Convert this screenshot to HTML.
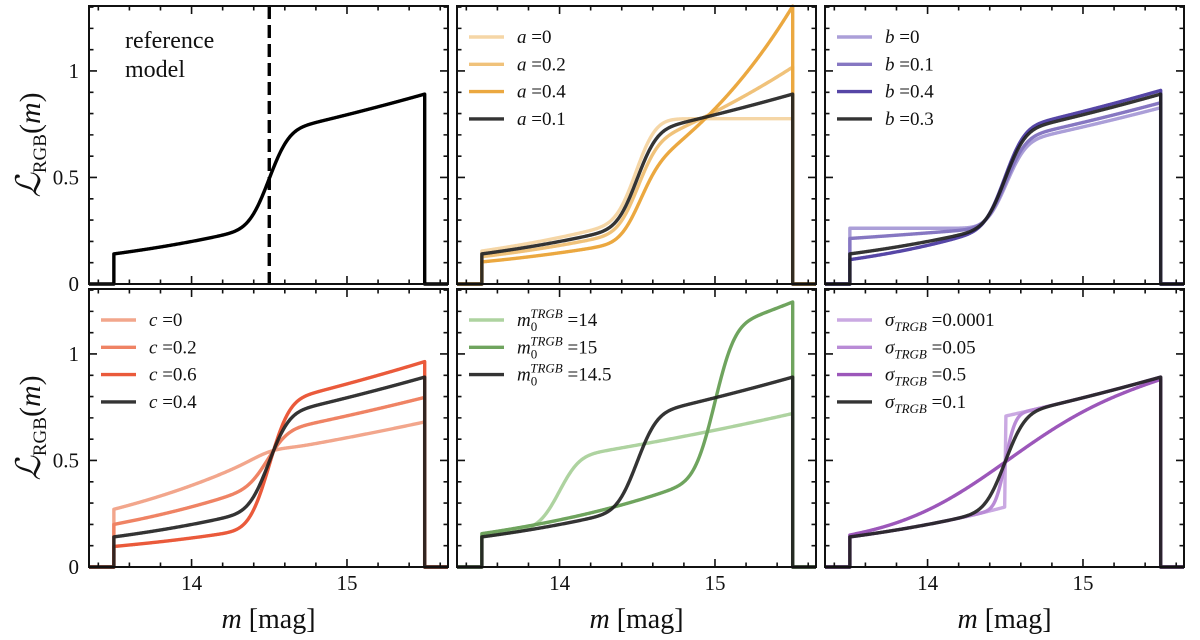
<!DOCTYPE html>
<html><head><meta charset="utf-8">
<style>
body{margin:0;background:#fff;}
svg{display:block;}
svg text{font-family:"Liberation Serif","DejaVu Serif",serif;}
</style></head>
<body>
<svg id="chart" width="1200" height="640" viewBox="0 0 1200 640" font-family="Liberation Serif, DejaVu Serif, serif"></svg>
<script>
// Model parameters per panel (reference model: a=0.1, b=0.3, c=0.4, m0=14.5, sigma=0.1)
const panelVaried = ["ref", "a", "b", "c", "m0", "sigma"];
const aValues = [0, 0.2, 0.4];
const bValues = [0, 0.1, 0.4];
const cValues = [0, 0.2, 0.6];
const m0Values = [14, 15];
const sigmaValues = [0.0001, 0.05, 0.5];
const refParams = {a: 0.1, b: 0.3, c: 0.4, m0: 14.5, sigma: 0.1};
const aColors = ["#f5d6a6", "#f0c27a", "#eba840"];
const bColors = ["#ab9fd8", "#8677c2", "#5646a6"];
const cColors = ["#f2a68c", "#ef8364", "#ea5a3b"];
const m0Colors = ["#aed3a0", "#6fa45e"];
const sigmaColors = ["#caa9e2", "#b98bd6", "#9c57ba"];
const xTicks = [14, 15];
const xTickLabels = ["14", "15"];
const yTicks = [0, 0.5, 1];
const yTickLabels = ["0", "0.5", "1"];
const mMin = 13.5, mMax = 15.5;

const NS = "http://www.w3.org/2000/svg";
const svg = document.getElementById("chart");
const colLeft = [89, 457, 825], pw = 359;
const rowTop = [6, 289], ph = 278;
const xDom = [13.34, 15.65], yDom = [0, 1.305];
const FF = "Liberation Serif, DejaVu Serif, serif";

function mk(tag, attrs, parent) {
  const e = document.createElementNS(NS, tag);
  for (const k in attrs) e.setAttribute(k, attrs[k]);
  if (tag === "text") e.setAttribute("font-family", FF);
  (parent || svg).appendChild(e);
  return e;
}
function erf(x) {
  const s = Math.sign(x); x = Math.abs(x);
  const t = 1 / (1 + 0.3275911 * x);
  const y = 1 - (((((1.061405429 * t - 1.453152027) * t) + 1.421413741) * t - 0.284496736) * t + 0.254829592) * t * Math.exp(-x * x);
  return s * y;
}
function model(p) {
  const N = 500, ms = [], vs = [];
  for (let i = 0; i <= N; i++) {
    const m = mMin + (mMax - mMin) * i / N, x = m - p.m0;
    const S = 0.5 * (1 + erf(x / (Math.SQRT2 * p.sigma)));
    const v = Math.pow(10, p.b * x) * (1 - S) + Math.pow(10, p.a * x + p.c) * S;
    ms.push(m); vs.push(v);
  }
  let I = 0;
  for (let i = 0; i < N; i++) I += 0.5 * (vs[i] + vs[i + 1]) * (ms[i + 1] - ms[i]);
  return ms.map((m, i) => [m, vs[i] / I]);
}
function sx(c, m) { return colLeft[c] + (m - xDom[0]) / (xDom[1] - xDom[0]) * pw; }
function sy(r, v) { return rowTop[r] + ph - (v - yDom[0]) / (yDom[1] - yDom[0]) * ph; }

function drawCurve(g, c, r, p, color, name) {
  const pts = model(p);
  let d = `M${sx(c, xDom[0])},${sy(r, 0)} L${sx(c, mMin)},${sy(r, 0)}`;
  pts.forEach(([m, v]) => d += ` L${sx(c, m).toFixed(2)},${sy(r, v).toFixed(2)}`);
  d += ` L${sx(c, mMax)},${sy(r, 0)} L${sx(c, xDom[1])},${sy(r, 0)}`;
  const el = mk("path", {d: d, fill: "none", stroke: color, "stroke-width": 3.4, "stroke-linejoin": "round"}, g);
  
  
}
function legendEntry(g, c, r, i, color, html, name) {
  const x0 = colLeft[c] + 12, y0 = rowTop[r] + 31 + i * 27.3;
  const gg = mk("g", {}, g);
  
  
  mk("line", {x1: x0, x2: x0 + 35, y1: y0, y2: y0, stroke: color, "stroke-width": 3.4}, gg);
  const t = mk("text", {x: x0 + 48, y: y0 + 6, "font-size": 19, fill: "#111"}, gg);
  t.innerHTML = html;
}

const panels = [
  {c: 0, r: 0}, {c: 1, r: 0}, {c: 2, r: 0},
  {c: 0, r: 1}, {c: 1, r: 1}, {c: 2, r: 1}
];
panels.forEach((P, idx) => {
  const g = mk("g", {});
  
  
  const L = colLeft[P.c], T = rowTop[P.r];
  const key = panelVaried[idx];
  const dark = "rgba(30,30,30,0.9)";
  let vals = [], cols = [], lbl = null;
  if (key === "a") { vals = aValues; cols = aColors; lbl = v => `<tspan font-style="italic">a</tspan> =${v}`; }
  if (key === "b") { vals = bValues; cols = bColors; lbl = v => `<tspan font-style="italic">b</tspan> =${v}`; }
  if (key === "c") { vals = cValues; cols = cColors; lbl = v => `<tspan font-style="italic">c</tspan> =${v}`; }
  if (key === "m0") { vals = m0Values; cols = m0Colors; lbl = v => `<tspan font-style="italic">m</tspan><tspan font-size="13" dy="5">0</tspan><tspan font-size="13" font-style="italic" dx="-7" dy="-13">TRGB</tspan><tspan dy="8"> =${v}</tspan>`; }
  if (key === "sigma") { vals = sigmaValues; cols = sigmaColors; lbl = v => `<tspan font-style="italic">σ</tspan><tspan font-size="13" font-style="italic" dy="5">TRGB</tspan><tspan dy="-5"> =${v}</tspan>`; }
  vals.forEach((v, i) => {
    const p = Object.assign({}, refParams); p[key] = v;
    drawCurve(g, P.c, P.r, p, cols[i], `curve-${key}-${v}`);
  });
  if (key === "ref") {
    drawCurve(g, P.c, P.r, refParams, "#000", "curve-reference");
    const dl = mk("line", {x1: sx(0, refParams.m0), x2: sx(0, refParams.m0), y1: T, y2: T + ph, stroke: "#000", "stroke-width": 3.4, "stroke-dasharray": "13,6"}, g);
    
    
    const t = mk("text", {x: L + 36, y: T + 42, "font-size": 24, fill: "#111"}, g);
    t.innerHTML = `<tspan x="${L + 36}">reference</tspan><tspan x="${L + 36}" dy="29">model</tspan>`;
    
    
  } else {
    drawCurve(g, P.c, P.r, refParams, dark, `curve-reference-${key}`);
    vals.forEach((v, i) => legendEntry(g, P.c, P.r, i, cols[i], lbl(v), `legend-${key}-${v}`));
    legendEntry(g, P.c, P.r, vals.length, dark, lbl(refParams[key]), `legend-${key}-reference`);
  }
  const fr = mk("rect", {x: L, y: T, width: pw, height: ph, fill: "none", stroke: "#111", "stroke-width": 2}, g);
  
  
  let d = "";
  for (let k = 0; k <= 20; k++) {
    const m = 13.4 + k * 0.2; if (m < xDom[0] || m > xDom[1]) continue;
    const major = Math.abs(m - Math.round(m)) < 1e-6;
    const len = major ? 8 : 4.5, x = sx(P.c, m);
    d += `M${x},${T + ph}v${-len}M${x},${T}v${len}`;
  }
  for (let k = 0; k <= 13; k++) {
    const v = k * 0.1, y = sy(P.r, v);
    const major = k % 5 === 0, len = major ? 8 : 4.5;
    d += `M${L},${y}h${len}M${L + pw},${y}h${-len}`;
  }
  mk("path", {d: d, stroke: "#111", "stroke-width": 1.6, fill: "none"}, g);
  if (P.r === 1) {
    xTicks.forEach((m, i) => {
      const t = mk("text", {x: sx(P.c, m), y: 590, "font-size": 21, "text-anchor": "middle", fill: "#111"}, g);
      t.textContent = xTickLabels[i];
      
      
    });
    const xl = mk("text", {x: L + pw / 2, y: 628, "font-size": 28, "text-anchor": "middle", fill: "#111"}, g);
    xl.innerHTML = `<tspan font-style="italic">m</tspan> [mag]`;
    
    
  }
  if (P.c === 0) {
    yTicks.forEach((v, i) => {
      const t = mk("text", {x: 79, y: sy(P.r, v) + 7, "font-size": 21, "text-anchor": "end", fill: "#111"}, g);
      t.textContent = yTickLabels[i];
      
      
    });
    const cy = T + ph / 2;
    const yl = mk("text", {x: 0, y: 0, "font-size": 30, "text-anchor": "middle", fill: "#111", transform: `translate(40,${cy}) rotate(-90)`}, g);
    yl.innerHTML = `<tspan font-style="italic" font-size="34">ℒ</tspan><tspan font-size="19" dy="6">RGB</tspan><tspan dy="-6">(</tspan><tspan font-style="italic">m</tspan>)`;
    
    
  }
});
</script>
</body></html>
